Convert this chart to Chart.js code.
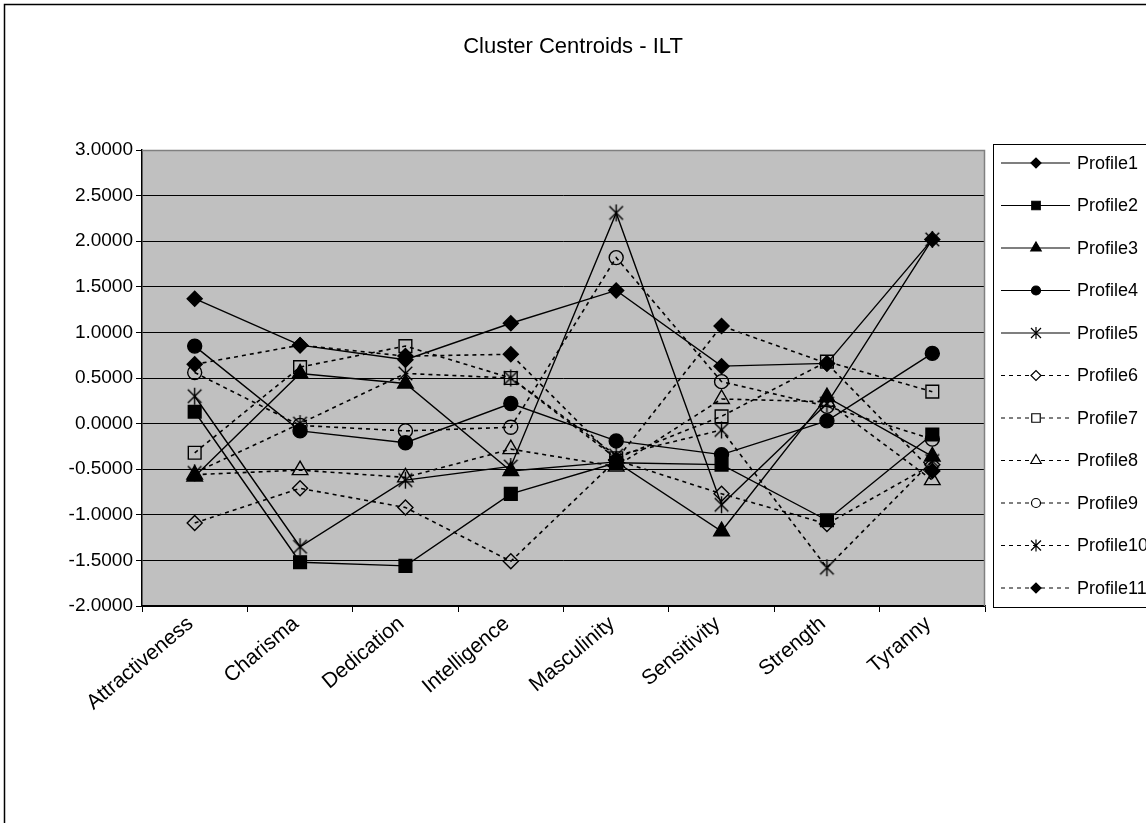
<!DOCTYPE html>
<html>
<head>
<meta charset="utf-8">
<script src="https://cdn.jsdelivr.net/npm/chart.js@4.4.1/dist/chart.umd.min.js"></script>
<style>
  html, body { margin: 0; padding: 0; background: #ffffff; }
  #wrap { width: 1146px; height: 823px; position: relative; }
</style>
</head>
<body>
<div id="wrap"><canvas id="c" width="1146" height="823"></canvas></div>
<script>
// Category names along the x axis
const categories = ['Attractiveness', 'Charisma', 'Dedication', 'Intelligence',
                    'Masculinity', 'Sensitivity', 'Strength', 'Tyranny'];

// Centroid values for each profile, one per category
const profile1  = [ 1.37,  0.86,  0.70,  1.10,  1.46,  0.63,  0.66,  2.02];
const profile2  = [ 0.13, -1.52, -1.56, -0.77, -0.43, -0.45, -1.06, -0.12];
const profile3  = [-0.58,  0.55,  0.44, -0.52, -0.42, -1.18,  0.29, -0.36];
const profile4  = [ 0.85, -0.08, -0.21,  0.22, -0.19, -0.34,  0.03,  0.77];
const profile5  = [ 0.30, -1.35, -0.62, -0.47,  2.31, -0.89,  0.22,  2.02];
const profile6  = [-1.09, -0.71, -0.92, -1.51, -0.40, -0.77, -1.10, -0.45];
const profile7  = [-0.32,  0.62,  0.85,  0.50, -0.38,  0.08,  0.68,  0.35];
const profile8  = [-0.56, -0.51, -0.59, -0.28, -0.47,  0.27,  0.24, -0.62];
const profile9  = [ 0.56, -0.02, -0.08, -0.04,  1.82,  0.46,  0.19, -0.17];
const profile10 = [-0.54,  0.00,  0.55,  0.50, -0.35, -0.07, -1.58, -0.41];
const profile11 = [ 0.65,  0.86,  0.74,  0.76, -0.40,  1.07,  0.66, -0.52];

const seriesNames = ['Profile1', 'Profile2', 'Profile3', 'Profile4', 'Profile5', 'Profile6',
                     'Profile7', 'Profile8', 'Profile9', 'Profile10', 'Profile11'];
const seriesValues = [profile1, profile2, profile3, profile4, profile5, profile6,
                      profile7, profile8, profile9, profile10, profile11];

// Value axis range
const yMin = -2, yMax = 3, yStep = 0.5;

const FONT = '"Liberation Sans", Arial, sans-serif';

// Asterisk marker: an X crossed by a vertical stroke
function makeStar(size, lw) {
  const cv = document.createElement('canvas');
  cv.width = size; cv.height = size;
  const g = cv.getContext('2d');
  const c = size / 2, r = size / 2 - 1;
  g.strokeStyle = '#000';
  g.lineWidth = lw;
  g.beginPath();
  g.moveTo(c, c - r); g.lineTo(c, c + r);
  const d = r * 0.8;
  g.moveTo(c - d, c - d); g.lineTo(c + d, c + d);
  g.moveTo(c + d, c - d); g.lineTo(c - d, c + d);
  g.stroke();
  return cv;
}
const starBig = makeStar(19, 1.4);

// Marker style for each series: [shape, filled, dashed, radius]
const markerSpec = [
  ['rectRot', true,  false, 7.5],
  ['rect',    true,  false, 9],
  ['triangle',true,  false, 9],
  ['circle',  true,  false, 7],
  ['star',    false, false, 9],
  ['rectRot', false, true,  7.5],
  ['rect',    false, true,  9],
  ['triangle',false, true,  9],
  ['circle',  false, true,  7],
  ['star',    false, true,  9],
  ['rectRot', true,  true,  7.5]
];

const datasets = seriesValues.map((vals, i) => {
  const [shape, filled, dashed, rad] = markerSpec[i];
  return {
    label: seriesNames[i],
    data: vals,
    borderColor: '#000000',
    borderWidth: dashed ? 1.6 : 1.4,
    borderDash: dashed ? [4, 4] : [],
    tension: 0,
    fill: false,
    pointStyle: shape === 'star' ? starBig : shape,
    pointRadius: rad,
    pointBorderWidth: 1.4,
    pointBorderColor: '#000000',
    pointBackgroundColor: filled ? '#000000' : 'rgba(0,0,0,0)',
    order: seriesNames.length - i
  };
});

// Gray plot background, gray frame on top/right, outer chart border, title
const plotDecor = {
  id: 'plotDecor',
  beforeDraw(chart) {
    const { ctx, chartArea: a } = chart;
    ctx.save();
    ctx.fillStyle = '#ffffff';
    ctx.fillRect(0, 0, chart.width, chart.height);
    ctx.fillStyle = '#c0c0c0';
    ctx.fillRect(a.left, a.top, a.right - a.left, a.bottom - a.top);
    ctx.restore();
  },
  afterDraw(chart) {
    const { ctx, chartArea: a } = chart;
    ctx.save();
    ctx.strokeStyle = '#808080';
    ctx.lineWidth = 1.5;
    ctx.beginPath();
    ctx.moveTo(a.left, a.top + 0.5);
    ctx.lineTo(a.right - 0.5, a.top + 0.5);
    ctx.lineTo(a.right - 0.5, a.bottom);
    ctx.stroke();
    ctx.strokeStyle = '#000000';
    ctx.lineWidth = 1.5;
    ctx.strokeRect(4.5, 4.5, 2000, 2000);
    ctx.fillStyle = '#000000';
    ctx.font = '22px ' + FONT;
    ctx.textAlign = 'center';
    ctx.textBaseline = 'middle';
    ctx.fillText('Cluster Centroids - ILT', 573, 47);
    ctx.restore();
  }
};

// Slanted category labels below the x axis, placed from the category scale
const labelAngle = 40 * Math.PI / 180;
const categoryLabels = {
  id: 'categoryLabels',
  afterDraw(chart) {
    const { ctx } = chart;
    const xs = chart.scales.x;
    const yTop = chart.chartArea.bottom;
    ctx.save();
    ctx.fillStyle = '#000';
    ctx.font = '21px ' + FONT;
    ctx.textAlign = 'right';
    ctx.textBaseline = 'middle';
    categories.forEach((name, i) => {
      const x = xs.getPixelForValue(i);
      ctx.save();
      ctx.translate(x - 4, yTop + 15);
      ctx.rotate(-labelAngle);
      ctx.fillText(name, 0, 0);
      ctx.restore();
    });
    ctx.restore();
  }
};

// Legend box on the right: line sample with marker, then series name
const sideLegend = {
  id: 'sideLegend',
  afterDraw(chart) {
    const { ctx } = chart;
    const bx = 993, by = 144, bh = 463;
    ctx.save();
    ctx.fillStyle = '#ffffff';
    ctx.fillRect(bx, by, 400, bh);
    ctx.strokeStyle = '#000000';
    ctx.lineWidth = 1;
    ctx.strokeRect(bx + 0.5, by + 0.5, 400, bh);
    chart.data.datasets.forEach((ds, i) => {
      const [shape, filled, dashed] = markerSpec[i];
      const y = 163 + i * 42.5;
      const x0 = 1001, x1 = 1070, mx = 1036;
      ctx.strokeStyle = '#000';
      ctx.lineWidth = 1.2;
      ctx.setLineDash(dashed ? [4, 4] : []);
      ctx.beginPath();
      ctx.moveTo(x0, y); ctx.lineTo(x1, y);
      ctx.stroke();
      ctx.setLineDash([]);
      if (shape === 'star') {
        ctx.lineWidth = 1.2;
        ctx.beginPath();
        ctx.moveTo(mx, y - 6); ctx.lineTo(mx, y + 6);
        ctx.moveTo(mx - 5, y - 5); ctx.lineTo(mx + 5, y + 5);
        ctx.moveTo(mx + 5, y - 5); ctx.lineTo(mx - 5, y + 5);
        ctx.stroke();
      } else {
        ctx.fillStyle = filled ? '#000' : '#fff';
        ctx.lineWidth = 1.2;
        const r = shape === 'rectRot' ? 5 : shape === 'circle' ? 4.5 : 6;
        Chart.helpers.drawPoint(ctx, { pointStyle: shape, radius: r, borderWidth: 1.2 }, mx, y);
      }
      ctx.fillStyle = '#000';
      ctx.font = '18px ' + FONT;
      ctx.textAlign = 'left';
      ctx.textBaseline = 'middle';
      ctx.fillText(ds.label, 1077, y + 1);
    });
    ctx.restore();
  }
};

new Chart(document.getElementById('c'), {
  type: 'line',
  data: { labels: categories, datasets },
  options: {
    responsive: false,
    animation: false,
    devicePixelRatio: 1,
    layout: { padding: { left: 0, top: 150, right: 161, bottom: 0 } },
    plugins: {
      legend: { display: false },
      title: { display: false },
      tooltip: { enabled: false }
    },
    scales: {
      x: {
        offset: true,
        afterFit(axis) { axis.height = 217; },
        grid: {
          display: true,
          offset: true,
          drawOnChartArea: false,
          drawTicks: true,
          tickLength: 6,
          color: '#000000'
        },
        border: { display: true, color: '#000000', width: 1.5 },
        ticks: { display: false, autoSkip: false }
      },
      y: {
        min: yMin,
        max: yMax,
        afterFit(axis) { axis.width = 142; },
        grid: {
          color: '#000000',
          lineWidth: 1,
          drawTicks: true,
          tickLength: 6
        },
        border: { display: true, color: '#000000', width: 1.5 },
        ticks: {
          stepSize: yStep,
          color: '#000000',
          font: { family: FONT, size: 19 },
          padding: 3,
          callback: (v) => Number(v).toFixed(4)
        }
      }
    }
  },
  plugins: [plotDecor, categoryLabels, sideLegend]
});
</script>
</body>
</html>
